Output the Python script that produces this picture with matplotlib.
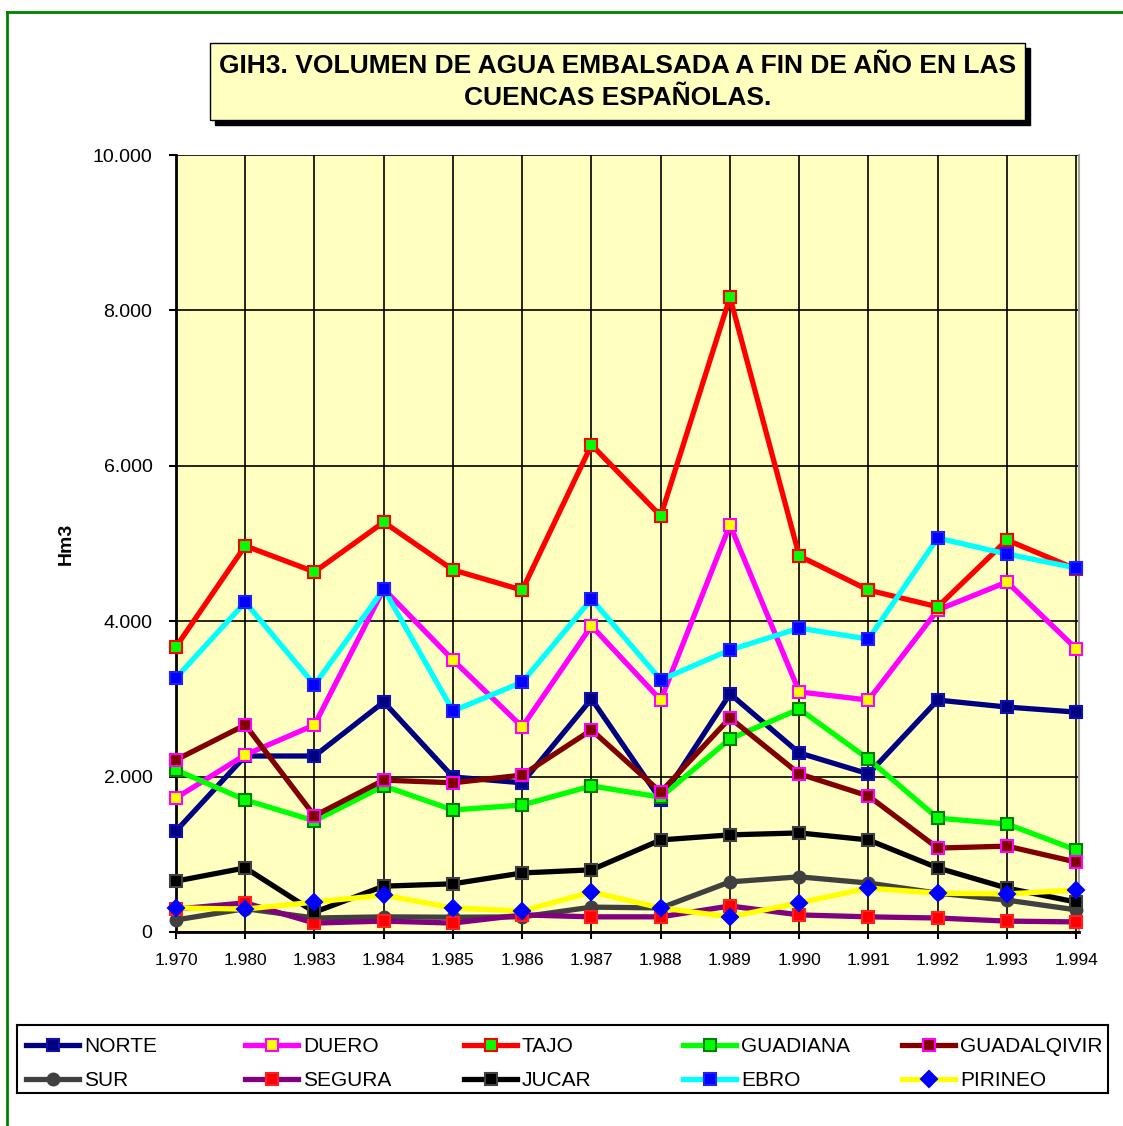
import matplotlib
matplotlib.use("Agg")
import matplotlib.pyplot as plt
from matplotlib.patches import Rectangle
from matplotlib.lines import Line2D

plt.rcParams['font.family'] = ['Liberation Sans', 'DejaVu Sans']

years = ["1.970", "1.980", "1.983", "1.984", "1.985", "1.986", "1.987",
         "1.988", "1.989", "1.990", "1.991", "1.992", "1.993", "1.994"]

norte = [1300, 2265, 2265, 2960, 1995, 1920, 3000, 1700, 3065, 2305, 2035, 2985, 2895, 2830]
duero = [1725, 2280, 2665, 4415, 3500, 2640, 3940, 2985, 5240, 3090, 2985, 4145, 4505, 3645]
tajo = [3670, 4970, 4635, 5275, 4660, 4400, 6270, 5355, 8170, 4840, 4400, 4185, 5045, 4670]
guadiana = [2085, 1700, 1430, 1880, 1570, 1635, 1880, 1735, 2485, 2870, 2225, 1465, 1390, 1055]
guadalqivir = [2215, 2665, 1495, 1955, 1920, 2020, 2600, 1800, 2755, 2035, 1750, 1080, 1105, 900]
sur = [155, 300, 180, 195, 190, 195, 320, 310, 645, 710, 630, 500, 410, 285]
segura = [295, 375, 115, 140, 115, 220, 195, 195, 335, 220, 195, 180, 140, 130]
jucar = [655, 825, 255, 590, 620, 760, 800, 1185, 1250, 1275, 1185, 825, 565, 385]
ebro = [3270, 4245, 3180, 4415, 2845, 3215, 4285, 3245, 3630, 3910, 3770, 5070, 4865, 4685]
pirineo = [310, 295, 385, 475, 310, 270, 515, 310, 195, 375, 565, 500, 490, 540]

names = ["NORTE", "DUERO", "TAJO", "GUADIANA", "GUADALQIVIR",
         "SUR", "SEGURA", "JUCAR", "EBRO", "PIRINEO"]
series = [norte, duero, tajo, guadiana, guadalqivir, sur, segura, jucar, ebro, pirineo]

styles = [
    dict(color='#000080', marker='s', mfc='#000080', mec='#1010B0'),
    dict(color='#FF00FF', marker='s', mfc='#FFFF00', mec='#FF00FF'),
    dict(color='#FF0000', marker='s', mfc='#00FF00', mec='#FF0000'),
    dict(color='#00FF00', marker='s', mfc='#00FF00', mec='#008000'),
    dict(color='#800000', marker='s', mfc='#800000', mec='#FF00FF'),
    dict(color='#404040', marker='o', mfc='#404040', mec='#404040'),
    dict(color='#800080', marker='s', mfc='#FF0000', mec='#FF2020'),
    dict(color='#000000', marker='s', mfc='#000000', mec='#404040'),
    dict(color='#00FFFF', marker='s', mfc='#0000FF', mec='#2020FF'),
    dict(color='#FFFF00', marker='D', mfc='#0000FF', mec='#0000FF'),
]

W, H = 1123, 1126
fig = plt.figure(figsize=(W / 100, H / 100), dpi=100)

def fx(x):
    return x / W

def fy(y):
    return 1 - y / H

# green frame (top and left only)
fig.add_artist(Line2D([fx(7), 1], [fy(12), fy(12)], color='#008000', lw=2))
fig.add_artist(Line2D([fx(7), fx(7)], [fy(12), 0], color='#008000', lw=2))

# title box with shadow
fig.add_artist(Rectangle((fx(215), fy(125)), fx(1030) - fx(215), fy(48) - fy(125),
                         transform=fig.transFigure, facecolor='black', edgecolor='black'))
fig.add_artist(Rectangle((fx(210), fy(120)), fx(1025) - fx(210), fy(43) - fy(120),
                         transform=fig.transFigure, facecolor='#FFFFC0', edgecolor='black', lw=1))
fig.text(fx(618), fy(66), "GIH3. VOLUMEN DE AGUA EMBALSADA A FIN DE AÑO EN LAS",
         ha='center', va='center', fontsize=19, fontweight='bold')
fig.text(fx(618), fy(98), "CUENCAS ESPAÑOLAS.",
         ha='center', va='center', fontsize=19, fontweight='bold')

ax = fig.add_axes([fx(176), fy(932), fx(1079) - fx(176), fy(155) - fy(932)])
ax.set_facecolor('#FFFFC0')

x = list(range(len(years)))
for name, vals, st in zip(names, series, styles):
    ax.plot(x, vals, lw=3.8, markersize=8.5, mew=1.5, label=name, clip_on=False, zorder=3, **st)

ax.set_xlim(0, 13.04)
ax.set_ylim(0, 10000)
ax.set_xticks(x)
ax.set_xticklabels(years)
ax.set_yticks(range(0, 10001, 2000))
ax.set_yticklabels(["0", "2.000", "4.000", "6.000", "8.000", "10.000"])
ax.grid(True, color='black', lw=1.2, zorder=1)
ax.set_axisbelow(True)
ax.tick_params(axis='y', direction='out', length=5, width=1.5, pad=12, labelsize=14)
ax.tick_params(axis='x', direction='out', length=5, width=1.5, pad=10, labelsize=12.5)
ax.spines['left'].set_linewidth(2)
ax.spines['bottom'].set_linewidth(2)
ax.spines['top'].set_visible(False)
ax.spines['right'].set_color('#A0A0A0')
ax.spines['right'].set_linewidth(1.5)
ax.set_ylabel("Hm3", fontsize=14, fontweight='bold', labelpad=13)

# legend box drawn as its own axes, Excel style equal columns
lg = fig.add_axes([fx(17), fy(1093), fx(1108) - fx(17), fy(1025) - fy(1093)])
lg.set_xlim(0, 1091)
lg.set_ylim(68, 0)
lg.set_xticks([])
lg.set_yticks([])
for s in lg.spines.values():
    s.set_linewidth(1.5)
for i, (name, st) in enumerate(zip(names, styles)):
    col, row = i % 5, i // 5
    x0 = 9 + col * 219
    yy = 20 + row * 34
    lg.plot([x0, x0 + 53], [yy, yy], lw=3.8, color=st['color'])
    lg.plot([x0 + 26.5], [yy], marker=st['marker'], mfc=st['mfc'], mec=st['mec'],
            markersize=8.5, mew=1.5, linestyle='none')
    lg.text(x0 + 58, yy + 1, name, fontsize=15, va='center', ha='left')

fig.savefig("out.png", dpi=100)
